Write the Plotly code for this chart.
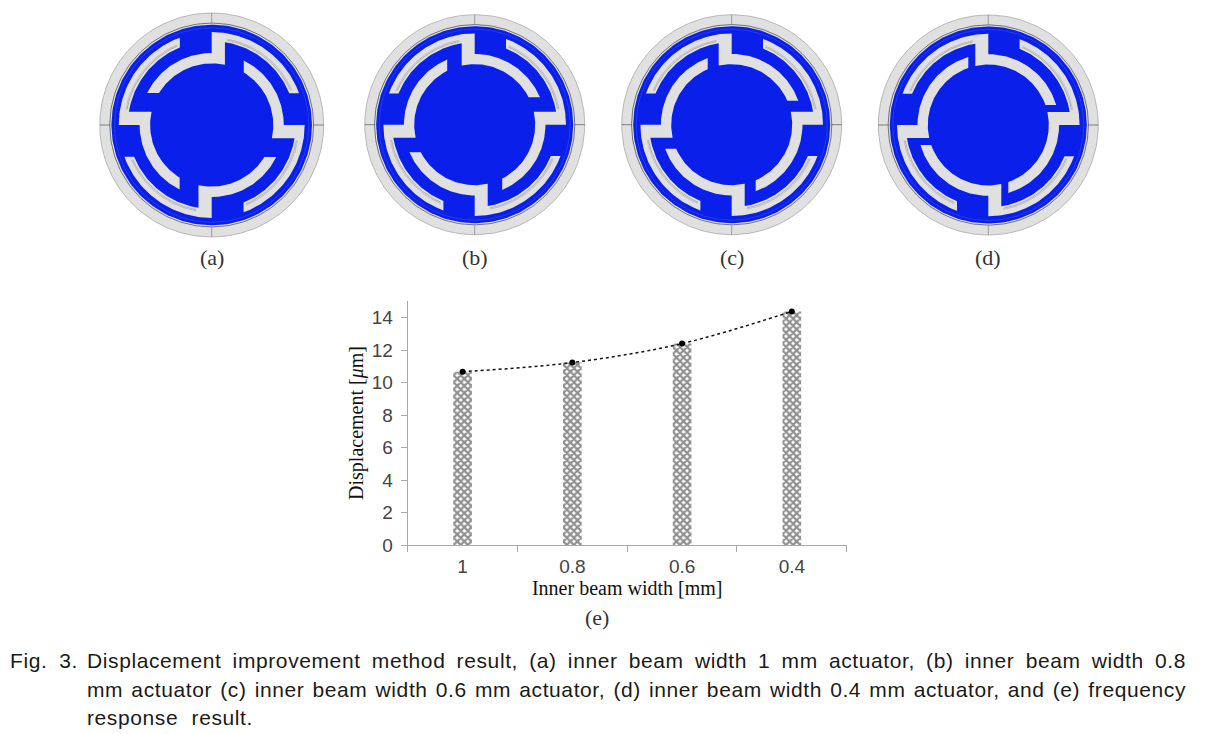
import numpy as np
import plotly.graph_objects as go

W, H = 1205, 734

# Bar chart data
widths = ["1", "0.8", "0.6", "0.4"]
displacement = [10.67, 11.23, 12.4, 14.38]
y_ticks = [0, 2, 4, 6, 8, 10, 12, 14]

# Actuator diagrams: label, centre (px), scale, mirror, free end offset of the inner beam
panel_labels = ["(a)", "(b)", "(c)", "(d)"]
panel_cx = [211.7, 474.7, 731.7, 988.3]
panel_cy = [125.0, 124.7, 124.7, 125.0]
panel_scale = [1.018, 1.0, 1.0, 1.0]
panel_mirror = [-1, 1, 1, 1]
panel_end = [31.5, 27.5, 24.0, 20.0]

# Radii of the actuator (px at scale 1)
R_HOUSING, R_BLUE, R_OUT_O, R_OUT_I, R_IN_O, R_IN_I = 110.0, 98.5, 91.3, 82.4, 70.8, 60.5
STUB_W, OUT_END = 13.0, 31.3

BLUE = "#0a20ea"
GREY = "#e0e0e0"

caption = [
    "Fig. 3.",
    "Displacement improvement method result, (a) inner beam width 1 mm actuator, (b) inner beam width 0.8",
    "mm actuator (c) inner beam width 0.6 mm actuator, (d) inner beam width 0.4 mm actuator, and (e) frequency",
    "response result.",
]
caption_x = [8, 85, 85, 85]
caption_y = [660, 660, 689, 717]


def arc(r, a0, a1, n=60):
    t = np.linspace(a0, a1, n)
    return r * np.cos(t), r * np.sin(t)


def beam(end):
    """Spring outline for the unit whose stub points up."""
    parts = [
        arc(R_IN_O, np.arcsin(end / R_IN_O), np.pi / 2),
        arc(R_OUT_O, np.pi / 2, np.pi - np.arcsin(OUT_END / R_OUT_O)),
        arc(R_OUT_I, np.pi - np.arcsin(OUT_END / R_OUT_I), np.arccos(-STUB_W / R_OUT_I)),
        arc(R_IN_I, np.arccos(-STUB_W / R_IN_I), np.arcsin(end / R_IN_I)),
    ]
    return np.concatenate([p[0] for p in parts]), np.concatenate([p[1] for p in parts])


def rotated(x, y, k):
    c, s = np.cos(k * np.pi / 2), np.sin(k * np.pi / 2)
    return c * x - s * y, s * x + c * y


fig = go.Figure()

# ---- bar chart ----
fig.add_trace(go.Bar(
    x=widths, y=displacement, width=0.17,
    marker=dict(color="#5a5a5a", line=dict(width=0),
                pattern=dict(shape="x", fgcolor="#222222", bgcolor="#ffffff", size=5, solidity=0.7)),
    hoverinfo="skip",
))
fig.add_trace(go.Scatter(
    x=widths, y=displacement, mode="lines+markers",
    line=dict(color="#111111", width=1.5, dash="dot", shape="spline"),
    marker=dict(color="#000000", size=6), hoverinfo="skip",
))

# ---- actuators ----
layout_axes = {}
HALF = 116
for i in range(4):
    n = i + 2
    xa, ya = f"x{n}", f"y{n}"
    sc, mir, end = panel_scale[i], panel_mirror[i], panel_end[i]
    cx, cy = panel_cx[i], panel_cy[i]
    layout_axes[f"xaxis{n}"] = dict(domain=[(cx - HALF) / W, (cx + HALF) / W], range=[-HALF / sc, HALF / sc],
                                    visible=False, fixedrange=True)
    layout_axes[f"yaxis{n}"] = dict(domain=[1 - (cy + HALF) / H, 1 - (cy - HALF) / H], range=[-HALF / sc, HALF / sc],
                                    visible=False, fixedrange=True)

    def add(x, y, fill=None, color=None, lw=0.0):
        fig.add_trace(go.Scatter(
            x=x, y=y, xaxis=xa, yaxis=ya, mode="lines",
            fill="toself" if fill else None, fillcolor=fill,
            line=dict(color=color or "rgba(0,0,0,0)", width=lw),
            hoverinfo="skip",
        ))

    x, y = arc(R_HOUSING, 0, 2 * np.pi, 240)
    add(x, y, fill=GREY, color="#a0a0a0", lw=0.7)
    x, y = arc(R_BLUE + 1.6, 0, 2 * np.pi, 240)
    add(x, y, color="#555555", lw=0.8)
    x, y = arc(R_BLUE, 0, 2 * np.pi, 240)
    add(x, y, fill=BLUE)
    x, y = arc(R_BLUE - 3, 0, 2 * np.pi, 240)
    add(x, y, color="#3c55f5", lw=0.5)

    bx, by = beam(end)
    hair = arc(R_OUT_I + 2.2, np.pi / 2 + 0.18, np.pi - np.arcsin(OUT_END / R_OUT_I) - 0.02)
    hair2 = arc(R_OUT_I + 3.4, np.pi / 2 + 0.18, np.pi - np.arcsin(OUT_END / R_OUT_I) - 0.02)
    for k in range(4):
        px, py = rotated(bx, by, k)
        add(mir * px, py, fill=GREY)
        for h, col in ((hair, "#9a9a9a"), (hair2, "#b0b0b0")):
            hx, hy = rotated(h[0], h[1], k)
            add(mir * hx, hy, color=col, lw=0.7)
        # housing cross mark
        tx, ty = rotated(np.array([R_BLUE + 1, R_HOUSING]), np.array([0.0, 0.0]), k)
        add(tx, ty, color="#666666" if k % 2 == 0 else "#8a8a8a", lw=0.8)

# ---- text ----
annotations = []
for i in range(4):
    annotations.append(dict(
        text=panel_labels[i], x=panel_cx[i] / W, y=1 - 257 / H, xref="paper", yref="paper",
        xanchor="center", yanchor="middle", showarrow=False,
        font=dict(family="Liberation Serif", size=22, color="#333333"),
    ))
annotations.append(dict(
    text="(e)", x=597 / W, y=1 - 617 / H, xref="paper", yref="paper",
    xanchor="center", yanchor="middle", showarrow=False,
    font=dict(family="Liberation Serif", size=22, color="#333333"),
))
for t, cxp, cyp in zip(caption, caption_x, caption_y):
    annotations.append(dict(
        text=t, x=cxp / W, y=1 - cyp / H, xref="paper", yref="paper",
        xanchor="left", yanchor="middle", showarrow=False,
        font=dict(family="Liberation Sans", size=21, color="#1a1a1a"),
    ))

fig.update_layout(
    width=W, height=H, margin=dict(l=0, r=0, t=0, b=0, pad=0),
    paper_bgcolor="white", plot_bgcolor="white", showlegend=False,
    font=dict(family="Liberation Sans"),
    xaxis=dict(
        domain=[407.7 / W, 846.7 / W], type="category", categoryorder="array", categoryarray=widths,
        tickson="boundaries", ticks="outside", ticklen=6, tickcolor="#a8a8a8", tickwidth=1,
        showline=True, linecolor="#a8a8a8", linewidth=1, showgrid=False, zeroline=False,
        tickfont=dict(family="Liberation Sans", size=19, color="#444444"),
        ticklabelstandoff=4, automargin=False,
        title=dict(text="Inner beam width [mm]", standoff=0,
                   font=dict(family="Liberation Serif", size=20, color="#111111")),
        fixedrange=True,
    ),
    yaxis=dict(
        domain=[1 - 545 / H, 1 - 301 / H], range=[0, 15.02], tickvals=y_ticks,
        ticks="outside", ticklen=6, tickcolor="#a8a8a8", tickwidth=1,
        showline=True, linecolor="#a8a8a8", linewidth=1, showgrid=False, zeroline=False,
        tickfont=dict(family="Liberation Sans", size=19, color="#444444"),
        ticklabelstandoff=4, automargin=False,
        title=dict(text="Displacement [<i>μ</i>m]", standoff=2,
                   font=dict(family="Liberation Serif", size=20, color="#111111")),
        fixedrange=True,
    ),
    annotations=annotations,
    **layout_axes,
)

post = """
document.body.style.margin = '0';
document.body.style.overflow = 'hidden';
var targets = {'Fig.': 68, 'Displacement': 1099, 'mm': 1099, 'response': 166};
document.querySelectorAll('.annotation-text').forEach(function (n) {
  var first = n.textContent.split(' ')[0];
  if (!(first in targets)) { return; }
  var gaps = n.textContent.split(' ').length - 1;
  var before = n.getComputedTextLength();
  n.style.letterSpacing = '0.6px';
  var spaced = n.getComputedTextLength();
  var extra = (targets[first] - spaced) / gaps;
  n.style.wordSpacing = extra + 'px';
  var after = n.getComputedTextLength();
  n.setAttribute('x', parseFloat(n.getAttribute('x') || 0) + (after - before) / 2);
});
"""
fig.write_html("out.html", config={"displayModeBar": False}, post_script=post)
